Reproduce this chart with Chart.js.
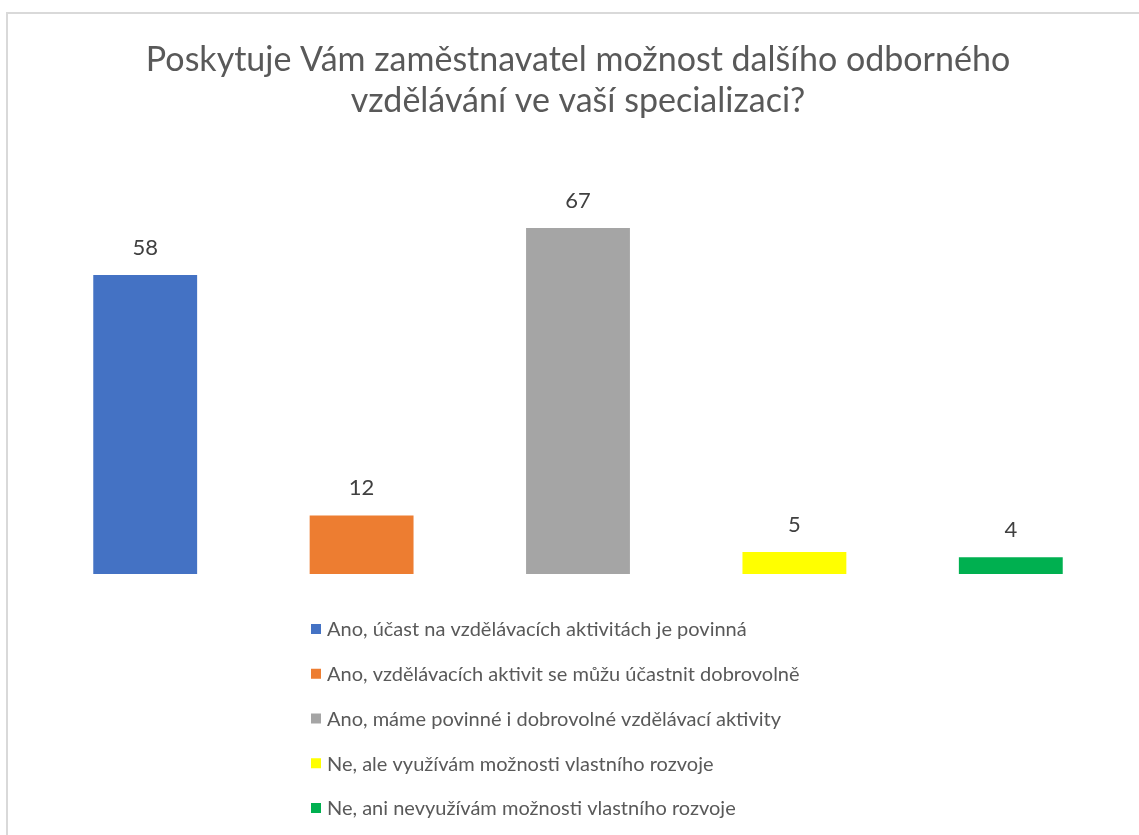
<!DOCTYPE html>
<html>
<head>
<meta charset="utf-8">
<script src="https://cdn.jsdelivr.net/npm/chart.js@4"></script>
<style>
  body { margin: 0; background: #fff; }
  #wrap { position: relative; width: 1139px; height: 835px; }
  #frame { position: absolute; left: 6px; top: 12px; width: 1200px; height: 900px;
           border-top: 2.5px solid #d9d9d9; border-left: 2.5px solid #d9d9d9; }
  canvas { position: absolute; left: 0; top: 0; }
</style>
</head>
<body>
<div id="wrap">
  <div id="frame"></div>
  <canvas id="myChart" width="1139" height="835"></canvas>
</div>
<script>
const odpovedi = [
  "Ano, účast na vzdělávacích aktivitách je povinná",
  "Ano, vzdělávacích aktivit se můžu účastnit dobrovolně",
  "Ano, máme povinné i dobrovolné vzdělávací aktivity",
  "Ne, ale využívám možnosti vlastního rozvoje",
  "Ne, ani nevyužívám možnosti vlastního rozvoje",
];
const pocty = [58, 12, 67, 5, 4];
const barvy = ["#4472C4", "#ED7D31", "#A5A5A5", "#FFFF00", "#00B050"];

const fontName = "Lato, 'Open Sans', sans-serif";

// hodnoty nad sloupci
const popisky = {
  id: "popisky",
  afterDatasetsDraw(chart) {
    const c = chart.ctx;
    const meta = chart.getDatasetMeta(0);
    c.save();
    c.font = "22px " + fontName;
    c.fillStyle = "#404040";
    c.textAlign = "center";
    c.textBaseline = "alphabetic";
    meta.data.forEach((bar, i) => {
      c.fillText(String(pocty[i]), bar.x, bar.y - 20);
    });
    c.restore();
  },
};

// legenda pod grafem, jedna polozka na radek
const legenda = {
  id: "legenda",
  afterDraw(chart) {
    const c = chart.ctx;
    c.save();
    c.font = "20px " + fontName;
    c.textBaseline = "middle";
    c.textAlign = "left";
    odpovedi.forEach((txt, i) => {
      const y = 629 + i * 44.75;
      c.fillStyle = barvy[i];
      c.fillRect(311, y - 5, 10, 10);
      c.fillStyle = "#595959";
      c.fillText(txt, 327, y + 1);
    });
    c.restore();
  },
};

const data = {
  labels: odpovedi,
  datasets: [
    {
      label: "Počet",
      data: pocty,
      backgroundColor: barvy,
      borderWidth: 0,
      barPercentage: 0.48,
      categoryPercentage: 1,
    },
  ],
};

const config = {
  type: "bar",
  data: data,
  options: {
    responsive: false,
    animation: false,
    layout: {
      padding: { left: 37, right: 20, top: 0, bottom: 261 },
    },
    scales: {
      x: { display: false },
      y: { display: false, min: 0.8, max: 80 },
    },
    plugins: {
      legend: { display: false },
      tooltip: { enabled: false },
      title: {
        display: true,
        text: [
          "Poskytuje Vám zaměstnavatel možnost dalšího odborného",
          "vzdělávání ve vaší specializaci?",
        ],
        color: "#595959",
        font: { family: fontName, size: 34, weight: "normal", lineHeight: 1.206 },
        padding: { top: 40, bottom: 38 },
      },
    },
  },
  plugins: [popisky, legenda],
};

const ctx = document.getElementById("myChart");
const myChart = new Chart(ctx, config);
</script>
</body>
</html>
